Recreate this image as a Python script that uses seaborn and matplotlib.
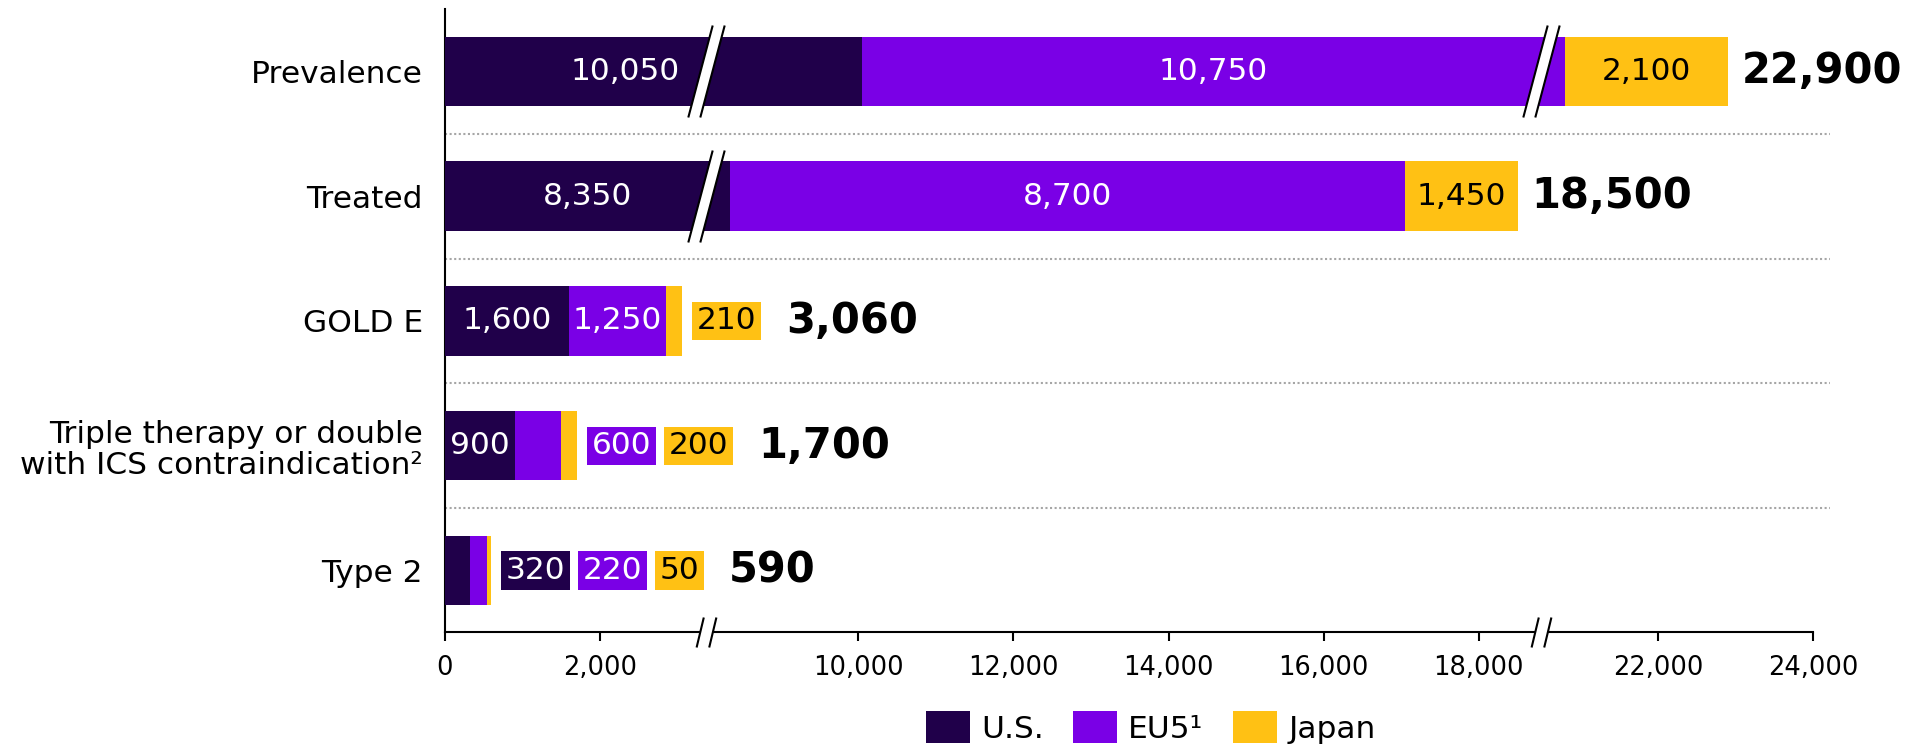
import numpy as np
import matplotlib
matplotlib.use("Agg")
import matplotlib.pyplot as plt
import seaborn as sns
from matplotlib.path import Path
from matplotlib.patches import Patch

# ---------------- data ----------------
categories = ["Prevalence", "Treated", "GOLD E",
              "Triple therapy or double\nwith ICS contraindication\u00b2", "Type 2"]
us_values = [10050, 8350, 1600, 900, 320]
eu5_values = [10750, 8700, 1250, 600, 220]
japan_values = [2100, 1450, 210, 200, 50]
total_labels = ["22,900", "18,500", "3,060", "1,700", "590"]
series_names = ["U.S.", "EU5\u00b9", "Japan"]
x_ticks = [0, 2000, 10000, 12000, 14000, 16000, 18000, 22000, 24000]
x_tick_labels = [f"{t:,}" for t in x_ticks]
# axis breaks (value ranges cut out of the axis)
break1 = (3370, 8040)
break2 = (18800, 20490)

# ---------------- style ----------------
DPI = 100
C_US, C_EU, C_JP = "#20004A", "#7A00E6", "#FFC114"
colors = [C_US, C_EU, C_JP]
text_on = ["white", "white", "black"]
FS = 22.5
FS_PX = FS * DPI / 72
PAD = 0.15
PAD_PX = PAD * FS_PX
BAR_H = 0.555

plt.rcParams["font.family"] = ["DejaVu Sans"]

fig = plt.figure(figsize=(19.13, 7.49), dpi=DPI)
ax = fig.add_axes([445 / 1913, 1 - 632 / 749, 1368 / 1913, 622.7 / 749])

# stacked bars drawn as overlapping cumulative bars
cum_us = np.array(us_values, float)
cum_eu = cum_us + np.array(eu5_values, float)
cum_jp = cum_eu + np.array(japan_values, float)
for vals, col in [(cum_jp, C_JP), (cum_eu, C_EU), (cum_us, C_US)]:
    sns.barplot(x=vals, y=categories, orient="h", color=col, saturation=1,
                width=BAR_H, linewidth=0, errorbar=None, ax=ax, zorder=3)

# broken x axis through a piecewise-linear function scale
G1 = break1[1] - break1[0]
G2 = break2[1] - break2[0]


def fwd(v):
    v = np.asarray(v, dtype=float)
    return (v - G1 * np.clip((v - break1[0]) / G1, 0, 1)
              - G2 * np.clip((v - break2[0]) / G2, 0, 1))


def inv(u):
    u = np.asarray(u, dtype=float)
    return np.where(u <= break1[0], u,
                    np.where(u <= break2[0] - G1, u + G1, u + G1 + G2))


ax.set_xscale("function", functions=(fwd, inv))
ax.set_xlim(0, 24000)
ax.set_ylim(4.493, -0.497)
ax.set_xticks(x_ticks, labels=x_tick_labels)
ax.set_xlabel("")
ax.set_ylabel("")

for s in ["top", "right"]:
    ax.spines[s].set_visible(False)
for s in ["left", "bottom"]:
    ax.spines[s].set_linewidth(1.5)
    ax.spines[s].set_color("black")
ax.tick_params(axis="x", direction="out", length=6.5, width=1.5, pad=10,
               labelsize=18.5, color="black")
ax.tick_params(axis="y", length=0, pad=16, labelsize=FS)
for lab in ax.get_yticklabels():
    lab.set_linespacing(1.09)

# dotted separators
for k in range(len(categories) - 1):
    ax.plot([0, 24220], [k + 0.5, k + 0.5], color="#A6A6A6", lw=1.5,
            ls=(0, (1, 1.2)), clip_on=False, zorder=1)

# ---------------- break markers ----------------
def band_paths(half_h, slant, half_w):
    lines = Path([(-half_w - slant, -half_h), (-half_w + slant, half_h),
                  (half_w - slant, -half_h), (half_w + slant, half_h)],
                 [Path.MOVETO, Path.LINETO, Path.MOVETO, Path.LINETO])
    fill = Path([(-half_w - slant, -half_h), (half_w - slant, -half_h),
                 (half_w + slant, half_h), (-half_w + slant, half_h),
                 (-half_w - slant, -half_h)], closed=True)
    size = 2 * max(half_h, half_w + slant) * 72 / DPI
    return lines, fill, size


def draw_break(x, y, transform, half_h, slant, half_w):
    lines, fill, size = band_paths(half_h, slant, half_w)
    ax.plot([x], [y], marker=fill, markersize=size, mfc="white", mec="white",
            mew=0.3, ls="none", transform=transform, clip_on=False, zorder=7)
    ax.plot([x], [y], marker=lines, markersize=size, mfc="none", mec="black",
            mew=1.5, ls="none", transform=transform, clip_on=False, zorder=8)


for bk in (break1, break2):
    # on the axis line
    draw_break(bk[0], 0, ax.get_xaxis_transform(), 15, 3.6, 6.3)
    # on every bar segment that runs across the break
    for row in range(len(categories)):
        lefts = [0, cum_us[row], cum_eu[row]]
        rights = [cum_us[row], cum_eu[row], cum_jp[row]]
        for l, r in zip(lefts, rights):
            if l < bk[0] and r > bk[1]:
                draw_break(bk[0], row, ax.transData, 46, 12.2, 6)

# ---------------- value labels ----------------
def px(v, row):
    return ax.transData.transform((v, row))[0]


nudges = {(0, 0): -28}
for row in range(len(categories)):
    vals = [us_values[row], eu5_values[row], japan_values[row]]
    lefts = [0, cum_us[row], cum_eu[row]]
    rights = [cum_us[row], cum_eu[row], cum_jp[row]]
    outside = []
    for i in range(3):
        lbl = f"{vals[i]:,}"
        w = px(rights[i], row) - px(lefts[i], row)
        if w >= 62:
            cx = float(inv((fwd(lefts[i]) + fwd(rights[i])) / 2))
            ax.annotate(lbl, xy=(cx, row), xytext=(nudges.get((row, i), 0), 0),
                        textcoords="offset pixels", ha="center", va="center",
                        fontsize=FS, color=text_on[i], zorder=6)
        else:
            outside.append(i)
    prev = None
    for i in outside:
        lbl = f"{vals[i]:,}"
        if prev is None:
            xy, xyc, off = (cum_jp[row], row), "data", 10 + PAD_PX
        else:
            xy, xyc, off = (1, 0.5), prev, PAD_PX + 8 + PAD_PX
        prev = ax.annotate(lbl, xy=xy, xycoords=xyc, xytext=(off, 0),
                           textcoords="offset pixels", ha="left", va="center",
                           fontsize=FS, color=text_on[i], zorder=6,
                           annotation_clip=False,
                           bbox=dict(boxstyle=f"square,pad={PAD}",
                                     fc=colors[i], ec="none"))
    if prev is None:
        xy, xyc, off = (cum_jp[row], row), "data", 14
    else:
        xy, xyc, off = (1, 0.5), prev, PAD_PX + 25
    ax.annotate(total_labels[row], xy=xy, xycoords=xyc, xytext=(off, 0),
                textcoords="offset pixels", ha="left", va="center",
                fontsize=30, fontweight="bold", color="black", zorder=6,
                annotation_clip=False)

# ---------------- legend ----------------
handles = [Patch(facecolor=c, edgecolor="none") for c in colors]
fig.legend(handles, series_names, loc="center", bbox_to_anchor=(0.6015, 0.029),
           ncol=3, frameon=False, fontsize=FS, handlelength=1.41,
           handleheight=1.2, handletextpad=0.35, columnspacing=0.95,
           borderpad=0, borderaxespad=0)

fig.savefig("out.png", dpi=DPI)
